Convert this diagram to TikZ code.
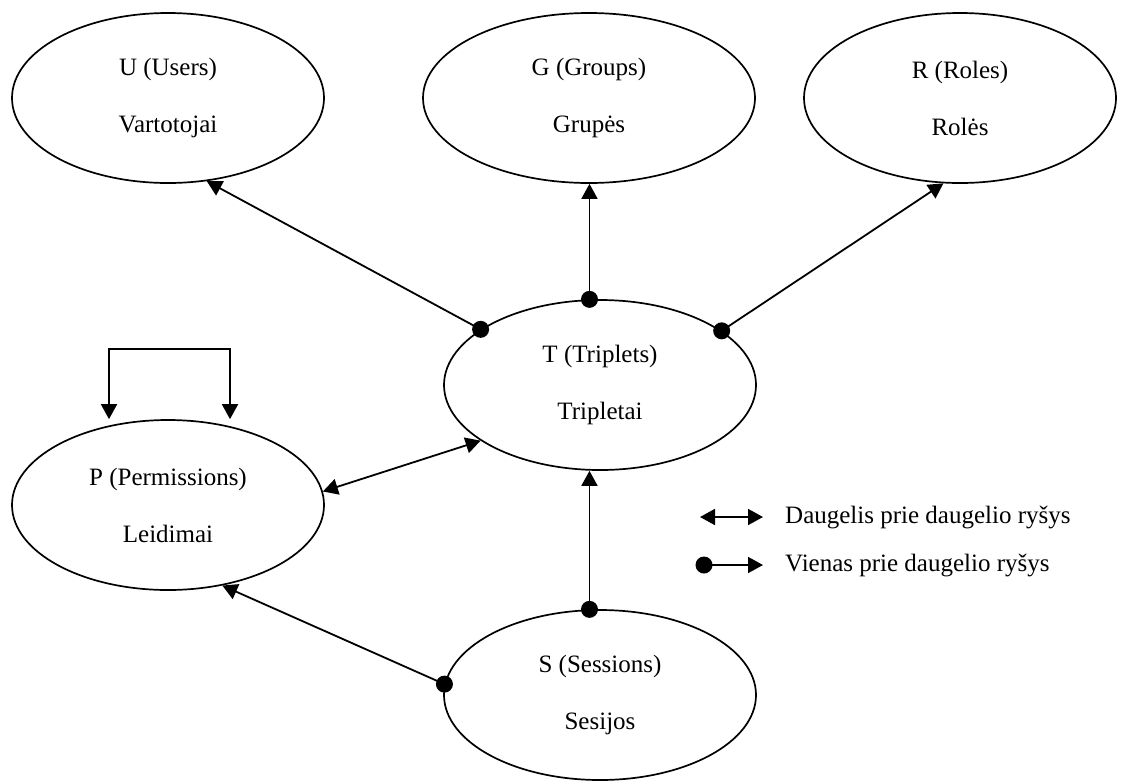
\documentclass[tikz,border=0pt]{standalone}
\usepackage{fontspec}
\setmainfont{Liberation Serif}
\usetikzlibrary{arrows.meta,shapes.geometric}
\begin{document}
\begin{tikzpicture}[x=1pt,y=-1pt,
  every node/.style={font=\fontsize{25}{30}\selectfont},
  entity/.style={draw,line width=1.7pt,ellipse,inner sep=0pt,
    minimum width=312pt,minimum height=170pt,align=center},
  link/.style={line width=1.8pt,-{Triangle[length=15pt,width=16pt]}},
  both/.style={line width=1.8pt,{Triangle[length=15pt,width=16pt]}-{Triangle[length=15pt,width=16pt]}},
  dot/.style={circle,fill,inner sep=0pt,minimum size=17pt}]
\useasboundingbox (0,0) rectangle (1121,780);

% entities
\node[entity] (U) at (168,98)  {U (Users)\\[27pt]Vartotojai};
\node[entity,minimum width=332pt] (G) at (589,98)  {G (Groups)\\[27pt]Grupės};
\node[entity] (R) at (960,98)  {R (Roles)\\[27pt]Rolės};
\node[entity] (T) at (600,385) {T (Triplets)\\[27pt]Tripletai};
\node[entity] (P) at (168,505) {P (Permissions)\\[27pt]Leidimai};
\node[entity] (S) at (600,695) {S (Sessions)\\[27pt]Sesijos};

% one-to-many links from T
\coordinate (tU) at (T.155.6);
\coordinate (tG) at (T.97.5);
\coordinate (tR) at (T.24);
\draw[link] (tU) -- (U.-65);
\draw[link] (tG) -- (tG |- G.south);
\draw[link] (tR) -- (R.-101);
\node[dot] at (tU) {};
\node[dot] at (tG) {};
\node[dot] at (tR) {};

% many-to-many between P and T
\draw[both] (P.5) -- (T.205);

% one-to-many links from S
\coordinate (sT) at (S.97.6);
\coordinate (sP) at (S.176.3);
\draw[link] (sT) -- (sT |- T.south);
\draw[link] (sP) -- (P.-56);
\node[dot] at (sT) {};
\node[dot] at (sP) {};

% self loop on P
\coordinate (pl) at (109,349);
\coordinate (pr) at (230,349);
\draw[both] (pl |- P.north) -- (pl) -- (pr) -- (pr |- P.north);

% legend
\coordinate (a1) at (700,517);
\coordinate (b1) at (763,517);
\coordinate (a2) at (704,565);
\coordinate (b2) at (763,565);
\draw[both] (a1) -- (b1);
\draw[link] (a2) -- (b2);
\node[dot] at (a2) {};
\node[anchor=west,inner sep=0pt] (t1) at (785,517) {Daugelis prie daugelio ryšys};
\node[anchor=west,inner sep=0pt] (t2) at (785,565) {Vienas prie daugelio ryšys};
\end{tikzpicture}
\end{document}
